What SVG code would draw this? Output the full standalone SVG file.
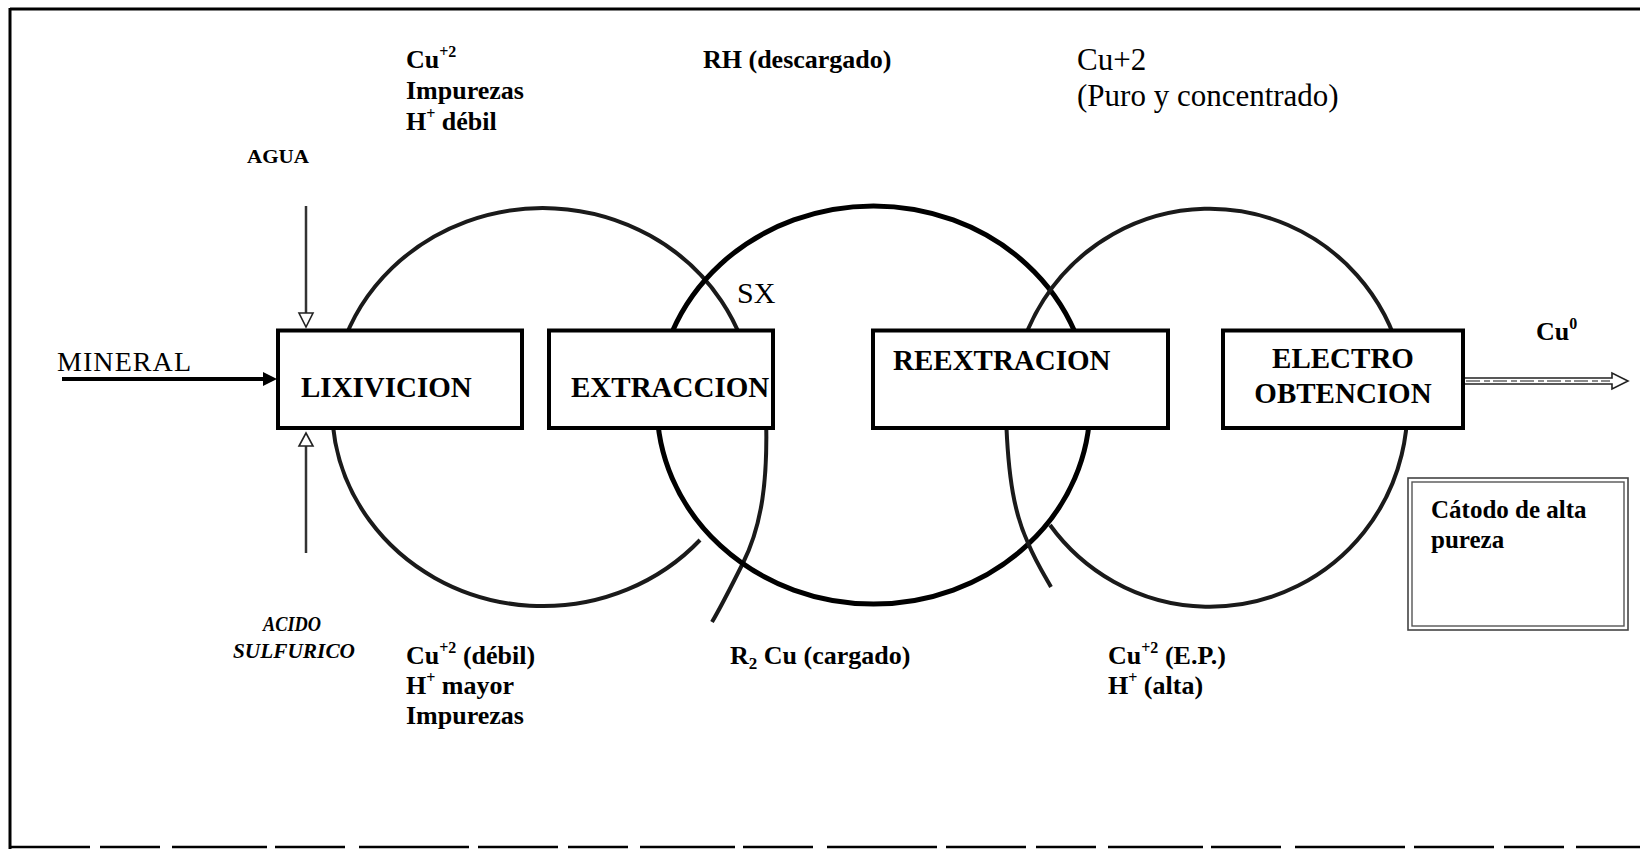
<svg xmlns="http://www.w3.org/2000/svg" width="1640" height="850" viewBox="0 0 1640 850">
  <style>
    .bold { font-family: "Liberation Serif", "Times New Roman", serif; font-weight: bold; fill: #000; }
    .reg { font-family: "Liberation Serif", "Times New Roman", serif; font-weight: normal; fill: #000; }
    .box { fill: #fff; stroke: #000; stroke-width: 4; }
    .ring { fill: none; stroke: #1a1a1a; stroke-width: 4; }
    .ringB { fill: none; stroke: #000; stroke-width: 5; }
    .thin { stroke: #333; stroke-width: 2.5; fill: none; }
    .head { fill: #fff; stroke: #222; stroke-width: 1.6; }
  </style>

  <rect x="0" y="0" width="1640" height="850" fill="#fff"/>

  <!-- outer frame -->
  <g id="frame" fill="none" stroke="#000">
    <line x1="10" y1="9" x2="1640" y2="9" stroke-width="3"/>
    <line x1="10" y1="8" x2="10" y2="849" stroke-width="3"/>
    <line x1="10" y1="847" x2="1640" y2="847" stroke-width="2.5" stroke-dasharray="80 10 60 12 95 8 70 14 110 9"/>
  </g>

  <!-- connectors: circles / arcs and arrows -->
  <g id="connectors">
    <!-- circle A (LIXIVICION - EXTRACCION) -->
    <path class="ring" d="M 752,380 A 211 199 0 1 0 700,540"/>
    <path class="ring" d="M 766,415 C 768,480 762,525 743,563 C 733,583 722,605 712,622"/>
    <!-- circle B (EXTRACCION - REEXTRACION) -->
    <ellipse class="ringB" cx="873.5" cy="405" rx="216.5" ry="199"/>
    <!-- circle C (REEXTRACION - ELECTRO OBTENCION) -->
    <path class="ring" d="M 1050,525 A 197.6 199 0 1 0 1014,380"/>
    <path class="ring" d="M 1006,415 C 1008,480 1015,515 1028,543 C 1035,560 1043,573 1051,587"/>

    <!-- MINERAL arrow -->
    <line x1="62" y1="379" x2="264" y2="379" stroke="#000" stroke-width="4"/>
    <polygon points="263,372 277,379 263,386" fill="#000"/>

    <!-- AGUA arrow -->
    <line class="thin" x1="306" y1="206" x2="306" y2="314"/>
    <polygon class="head" points="299,313 313,313 306,327"/>

    <!-- ACIDO SULFURICO arrow -->
    <line class="thin" x1="306" y1="553" x2="306" y2="446"/>
    <polygon class="head" points="299,446 313,446 306,433"/>

    <!-- Cu0 output arrow -->
    <polygon points="1464,378 1612,378 1612,373 1628,381 1612,389 1612,384 1464,384" fill="#fff" stroke="#222" stroke-width="1.6"/>
    <line x1="1466" y1="381" x2="1610" y2="381" stroke="#666" stroke-width="1.5" stroke-dasharray="14 4 6 3"/>
  </g>

  <!-- process boxes -->
  <g id="lixivicion">
    <rect class="box" x="278" y="330.5" width="244" height="97.5"/>
    <text class="bold" x="301" y="397" font-size="29">LIXIVICION</text>
  </g>
  <g id="extraccion">
    <rect class="box" x="549" y="330.5" width="224" height="97.5"/>
    <text class="bold" x="571" y="397" font-size="29">EXTRACCION</text>
  </g>
  <g id="reextracion">
    <rect class="box" x="873" y="330.5" width="295" height="97.5"/>
    <text class="bold" x="893" y="370" font-size="29">REEXTRACION</text>
  </g>
  <g id="electro">
    <rect class="box" x="1223" y="330.5" width="240" height="97.5"/>
    <text class="bold" x="1343" y="368" font-size="29" text-anchor="middle">ELECTRO</text>
    <text class="bold" x="1343" y="403" font-size="29" text-anchor="middle">OBTENCION</text>
  </g>

  <!-- catodo box -->
  <g id="catodo">
    <rect x="1408" y="478" width="220" height="152" fill="#fff" stroke="#444" stroke-width="1.6"/>
    <rect x="1412" y="482" width="212" height="144" fill="none" stroke="#555" stroke-width="1.4"/>
    <text class="bold" x="1431" y="518" font-size="25">Cátodo de alta</text>
    <text class="bold" x="1431" y="548" font-size="25">pureza</text>
  </g>

  <!-- labels -->
  <g id="label-mineral">
    <text class="reg" x="57" y="371" font-size="28" textLength="134" lengthAdjust="spacing">MINERAL</text>
  </g>
  <g id="label-agua">
    <text class="bold" x="247" y="163" font-size="19" textLength="62" lengthAdjust="spacingAndGlyphs">AGUA</text>
  </g>
  <g id="label-acido">
    <text class="bold" x="292" y="631" font-size="20" font-style="italic" text-anchor="middle" textLength="58" lengthAdjust="spacingAndGlyphs">ACIDO</text>
    <text class="bold" x="294" y="658" font-size="20" font-style="italic" text-anchor="middle" textLength="122" lengthAdjust="spacingAndGlyphs">SULFURICO</text>
  </g>
  <g id="label-pls">
    <text class="bold" x="406" y="68" font-size="26">Cu<tspan dy="-11" font-size="16">+2</tspan></text>
    <text class="bold" x="406" y="99" font-size="26">Impurezas</text>
    <text class="bold" x="406" y="130" font-size="26">H<tspan dy="-11" font-size="16">+</tspan><tspan dy="11"> débil</tspan></text>
  </g>
  <g id="label-rh">
    <text class="bold" x="703" y="68" font-size="26">RH (descargado)</text>
  </g>
  <g id="label-puro">
    <text class="reg" x="1077" y="70" font-size="31">Cu+2</text>
    <text class="reg" x="1077" y="106" font-size="31">(Puro y concentrado)</text>
  </g>
  <g id="label-sx">
    <text class="reg" x="737" y="303" font-size="30">SX</text>
  </g>
  <g id="label-cu0">
    <text class="bold" x="1536" y="340" font-size="26">Cu<tspan dy="-11" font-size="16">0</tspan></text>
  </g>
  <g id="label-refino">
    <text class="bold" x="406" y="664" font-size="26">Cu<tspan dy="-11" font-size="16">+2</tspan><tspan dy="11"> (débil)</tspan></text>
    <text class="bold" x="406" y="694" font-size="26">H<tspan dy="-11" font-size="16">+</tspan><tspan dy="11"> mayor</tspan></text>
    <text class="bold" x="406" y="724" font-size="26">Impurezas</text>
  </g>
  <g id="label-r2cu">
    <text class="bold" x="730" y="664" font-size="26">R<tspan dy="5" font-size="17">2</tspan><tspan dy="-5"> Cu (cargado)</tspan></text>
  </g>
  <g id="label-ep">
    <text class="bold" x="1108" y="664" font-size="26">Cu<tspan dy="-11" font-size="16">+2</tspan><tspan dy="11"> (E.P.)</tspan></text>
    <text class="bold" x="1108" y="694" font-size="26">H<tspan dy="-11" font-size="16">+</tspan><tspan dy="11"> (alta)</tspan></text>
  </g>
</svg>
